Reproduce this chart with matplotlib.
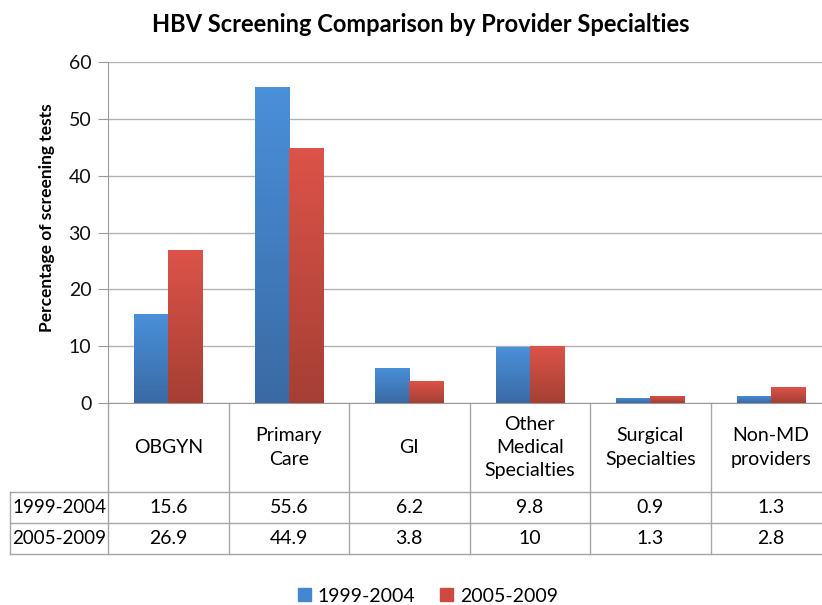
import matplotlib
matplotlib.use("Agg")
import matplotlib.pyplot as plt
import numpy as np
from matplotlib.patches import Patch
from matplotlib.colors import LinearSegmentedColormap

categories = ["OBGYN", "Primary\nCare", "GI", "Other\nMedical\nSpecialties",
              "Surgical\nSpecialties", "Non-MD\nproviders"]
series_names = ["1999-2004", "2005-2009"]
vals_1999_2004 = [15.6, 55.6, 6.2, 9.8, 0.9, 1.3]
vals_2005_2009 = [26.9, 44.9, 3.8, 10, 1.3, 2.8]
table_text_1 = ["15.6", "55.6", "6.2", "9.8", "0.9", "1.3"]
table_text_2 = ["26.9", "44.9", "3.8", "10", "1.3", "2.8"]
yticks = [0, 10, 20, 30, 40, 50, 60]

plt.rcParams['font.family'] = ['Lato', 'DejaVu Sans']

W, H = 822, 605
fig = plt.figure(figsize=(W / 100, H / 100), dpi=100)

def fx(px):
    return px / W

def fy(py):
    return 1 - py / H

ax_left, ax_right, ax_top, ax_bot = 108, 831, 62, 403
ax = fig.add_axes([fx(ax_left), fy(ax_bot), fx(ax_right - ax_left), (ax_bot - ax_top) / H])

n = len(categories)
x = np.arange(n)
bw = 0.283

grad_blue = LinearSegmentedColormap.from_list("b", ["#3a6aa4", "#4a90da"])
grad_red = LinearSegmentedColormap.from_list("r", ["#a53f34", "#dc5349"])
grad = np.linspace(0, 1, 256).reshape(-1, 1)

bars1 = ax.bar(x - bw / 2, vals_1999_2004, bw, facecolor="none", edgecolor="none", zorder=3)
bars2 = ax.bar(x + bw / 2, vals_2005_2009, bw, facecolor="none", edgecolor="none", zorder=3)
for bars, cmap in ((bars1, grad_blue), (bars2, grad_red)):
    for b in bars:
        x0, y0 = b.get_x(), b.get_y()
        w, h = b.get_width(), b.get_height()
        im = ax.imshow(grad, cmap=cmap, origin="lower", aspect="auto",
                       extent=(x0, x0 + w, y0, y0 + h), zorder=3)
        im.set_clip_path(b)

ax.set_xlim(-0.5, n - 0.5)
ax.set_ylim(0, 60)
ax.set_yticks(yticks)
ax.set_yticklabels([str(t) for t in yticks], fontsize=14)
ax.set_xticks([])
ax.yaxis.grid(True, color="#b3b3b3", linewidth=1.0, zorder=0)
ax.set_axisbelow(True)
for s in ("top", "right"):
    ax.spines[s].set_visible(False)
ax.spines["left"].set_color("#9a9a9a")
ax.spines["bottom"].set_color("#9a9a9a")
ax.tick_params(axis="y", length=7, color="#9a9a9a", pad=5, labelcolor="#111111")

fig.text(fx(47), fy(218), "Percentage of screening tests", rotation=90,
         ha="center", va="center", fontsize=12.5, fontweight="bold")

fig.text(fx(421), fy(25), "HBV Screening Comparison by Provider Specialties",
         ha="center", va="center", fontsize=17, fontweight="bold")

# data table
line_c = "#a6a6a6"
trans = ax.get_xaxis_transform()
axh = ax_bot - ax_top

def ay(py):
    return (ax_bot - py) / axh

hdr_b, r1_b, r2_b = 492, 523, 554
for i in range(n + 1):
    ax.plot([i - 0.5, i - 0.5], [0, ay(r2_b)], transform=trans, color=line_c,
            lw=1, clip_on=False)
for yy in (hdr_b, r1_b, r2_b):
    fig.add_artist(plt.Line2D([fx(10), 1.02], [fy(yy), fy(yy)], color=line_c, lw=1))
fig.add_artist(plt.Line2D([fx(10), fx(10)], [fy(hdr_b), fy(r2_b)], color=line_c, lw=1))

for i, cat in enumerate(categories):
    ax.text(i, ay((ax_bot + hdr_b) / 2), cat, transform=trans, ha="center",
            va="center", fontsize=14, linespacing=1.45, clip_on=False)
    ax.text(i, ay((hdr_b + r1_b) / 2), table_text_1[i], transform=trans,
            ha="center", va="center", fontsize=14, clip_on=False)
    ax.text(i, ay((r1_b + r2_b) / 2), table_text_2[i], transform=trans,
            ha="center", va="center", fontsize=14, clip_on=False)

fig.text(fx(12), fy((hdr_b + r1_b) / 2), series_names[0], ha="left", va="center", fontsize=13.5)
fig.text(fx(12), fy((r1_b + r2_b) / 2), series_names[1], ha="left", va="center", fontsize=13.5)

handles = [Patch(color="#4287d0"), Patch(color="#cc4a40")]
fig.legend(handles, series_names, loc="center", bbox_to_anchor=(fx(428), fy(596)),
           ncol=2, frameon=False, fontsize=14, handlelength=0.65, handleheight=0.65,
           handletextpad=0.35, columnspacing=1.3)

fig.savefig("out.png", dpi=100)
